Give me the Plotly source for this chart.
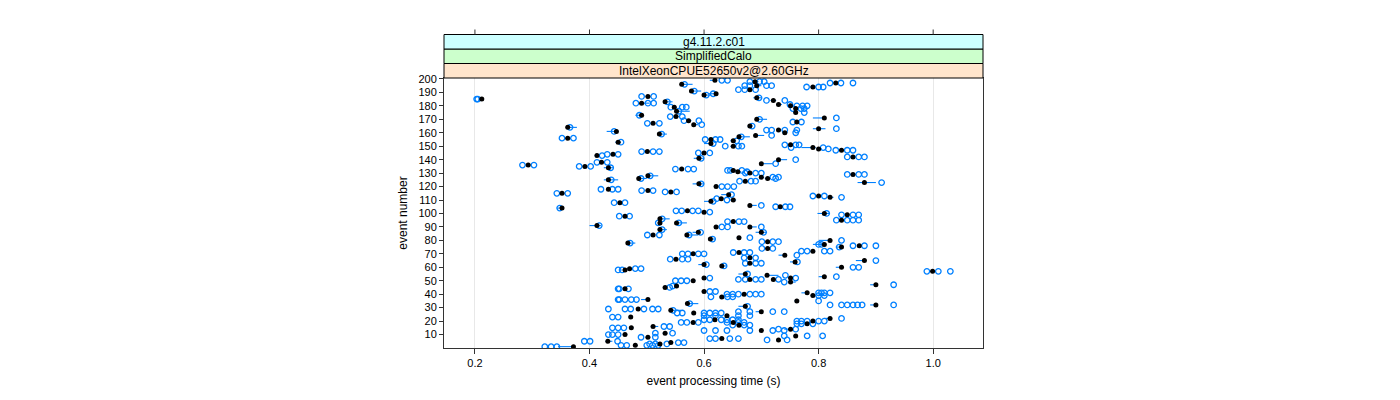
import plotly.graph_objects as go

# ---------------- data ----------------
strip_labels = ["IntelXeonCPUE52650v2@2.60GHz", "SimplifiedCalo", "g4.11.2.c01"]
strip_colors = ["#ffe5cc", "#ccffcc", "#ccffff"]
x_ticks = [0.2, 0.4, 0.6, 0.8, 1.0]
x_ticktext = ["0.2", "0.4", "0.6", "0.8", "1.0"]
y_ticks = list(range(10, 201, 10))

event_no = [199, 198, 197, 196, 195, 194, 192, 191, 189, 188, 187, 186, 185, 184, 183, 182, 181, 180,
            179, 178, 176, 175, 173, 172, 171, 170, 169, 168, 167, 166, 165, 164, 163, 162, 161, 160,
            159, 158, 157, 156, 155, 154, 153, 152, 151, 150, 149, 148, 147, 146, 145, 144, 143, 142,
            141, 140, 138, 137, 136, 135, 134, 133, 132, 131, 130, 129, 128, 127, 126, 126, 125, 124,
            123, 122, 120, 118, 117, 116, 115, 114, 113, 112, 111, 110, 109, 108, 106, 105, 104, 102,
            101, 100, 99, 98, 96, 95, 94, 93, 93, 91, 90, 90, 88, 86, 86, 84, 84, 82, 81, 80,
            79, 78, 77, 76, 75, 74, 72, 71, 70, 69, 67, 66, 65, 64, 63, 62, 61, 60,
            59, 58, 57, 55, 54, 53, 52, 52, 51, 51, 50, 49, 47, 46, 45, 44, 42, 41,
            40, 39, 38, 36, 35, 33, 32, 31, 29, 28, 27, 26, 24, 23, 22, 21, 20, 19,
            19, 18, 17, 16, 15, 14, 13, 11, 10, 9, 8, 7, 6, 5, 4, 3, 2, 1]

mean_time = [0.619, 0.689, 0.830, 0.561, 0.692, 0.790, 0.680, 0.578, 0.621, 0.600, 0.502, 0.692, 0.212, 0.721, 0.532, 0.491, 0.730, 0.751,
             0.548, 0.760, 0.552, 0.760, 0.491, 0.551, 0.810, 0.692, 0.573, 0.762, 0.511, 0.582, 0.680, 0.362, 0.800, 0.730, 0.447, 0.741,
             0.522, 0.690, 0.661, 0.362, 0.612, 0.651, 0.450, 0.612, 0.751, 0.651, 0.790, 0.800, 0.840, 0.501, 0.600, 0.441, 0.413, 0.860,
             0.591, 0.730, 0.421, 0.700, 0.293, 0.392, 0.433, 0.561, 0.651, 0.659, 0.680, 0.860, 0.502, 0.700, 0.486, 0.711, 0.433, 0.672,
             0.880, 0.591, 0.621, 0.433, 0.502, 0.542, 0.352, 0.643, 0.800, 0.820, 0.630, 0.651, 0.612, 0.453, 0.680, 0.733, 0.352, 0.571,
             0.600, 0.810, 0.850, 0.462, 0.523, 0.840, 0.651, 0.523, 0.552, 0.413, 0.680, 0.621, 0.523, 0.700, 0.590, 0.511, 0.570, 0.661, 0.611, 0.820,
             0.711, 0.467, 0.810, 0.871, 0.840, 0.711, 0.790, 0.661, 0.581, 0.741, 0.680, 0.551, 0.880, 0.759, 0.680, 0.600, 0.631, 0.840,
             0.470, 0.462, 0.999, 0.672, 0.710, 0.810, 0.600, 0.751, 0.680, 0.721, 0.581, 0.751, 0.900, 0.552, 0.532, 0.462, 0.600, 0.780,
             0.670, 0.790, 0.631, 0.502, 0.762, 0.571, 0.900, 0.672, 0.485, 0.542, 0.700, 0.582, 0.640, 0.472, 0.820, 0.619, 0.790, 0.581,
             0.651, 0.780, 0.661, 0.511, 0.473, 0.751, 0.700, 0.532, 0.462, 0.760, 0.502, 0.631, 0.730, 0.432, 0.542, 0.523, 0.480, 0.372]

seg_lo = [0.610, 0.685, 0.825, 0.561, 0.688, 0.785, 0.675, 0.575, 0.608, 0.600, 0.498, 0.686, 0.206, 0.716, 0.532, 0.488, 0.726, 0.746,
          0.545, 0.756, 0.552, 0.756, 0.480, 0.547, 0.790, 0.692, 0.570, 0.758, 0.507, 0.580, 0.676, 0.362, 0.790, 0.726, 0.430, 0.736,
          0.522, 0.690, 0.661, 0.358, 0.608, 0.646, 0.445, 0.600, 0.746, 0.646, 0.770, 0.796, 0.835, 0.497, 0.596, 0.437, 0.409, 0.855,
          0.582, 0.730, 0.417, 0.700, 0.289, 0.388, 0.425, 0.557, 0.646, 0.655, 0.676, 0.855, 0.502, 0.696, 0.486, 0.706, 0.425, 0.668,
          0.868, 0.580, 0.617, 0.429, 0.498, 0.538, 0.348, 0.630, 0.796, 0.816, 0.626, 0.646, 0.600, 0.449, 0.680, 0.729, 0.343, 0.567,
          0.596, 0.798, 0.846, 0.458, 0.523, 0.836, 0.646, 0.519, 0.552, 0.400, 0.680, 0.617, 0.519, 0.690, 0.580, 0.507, 0.570, 0.657, 0.611, 0.800,
          0.707, 0.467, 0.790, 0.867, 0.830, 0.707, 0.786, 0.657, 0.577, 0.730, 0.676, 0.547, 0.865, 0.750, 0.676, 0.590, 0.631, 0.830,
          0.466, 0.458, 0.995, 0.660, 0.710, 0.800, 0.596, 0.747, 0.676, 0.717, 0.577, 0.747, 0.890, 0.548, 0.528, 0.458, 0.596, 0.770,
          0.666, 0.786, 0.627, 0.490, 0.758, 0.571, 0.890, 0.660, 0.481, 0.542, 0.690, 0.578, 0.636, 0.468, 0.810, 0.615, 0.786, 0.577,
          0.647, 0.776, 0.657, 0.507, 0.469, 0.740, 0.696, 0.528, 0.458, 0.756, 0.498, 0.627, 0.726, 0.428, 0.538, 0.519, 0.476, 0.345]

seg_hi = [0.619, 0.695, 0.835, 0.580, 0.700, 0.795, 0.685, 0.595, 0.621, 0.612, 0.506, 0.700, 0.212, 0.726, 0.545, 0.505, 0.736, 0.756,
          0.552, 0.764, 0.575, 0.764, 0.491, 0.556, 0.810, 0.710, 0.578, 0.766, 0.515, 0.590, 0.685, 0.378, 0.812, 0.735, 0.447, 0.746,
          0.535, 0.705, 0.680, 0.366, 0.616, 0.656, 0.455, 0.612, 0.756, 0.656, 0.795, 0.806, 0.845, 0.505, 0.604, 0.445, 0.417, 0.865,
          0.600, 0.745, 0.425, 0.720, 0.297, 0.396, 0.442, 0.565, 0.656, 0.665, 0.685, 0.865, 0.520, 0.705, 0.500, 0.716, 0.450, 0.676,
          0.900, 0.600, 0.625, 0.437, 0.506, 0.546, 0.356, 0.643, 0.806, 0.826, 0.634, 0.656, 0.612, 0.457, 0.692, 0.737, 0.352, 0.575,
          0.604, 0.820, 0.854, 0.466, 0.540, 0.844, 0.656, 0.527, 0.570, 0.420, 0.692, 0.625, 0.535, 0.710, 0.590, 0.515, 0.590, 0.665, 0.620, 0.820,
          0.715, 0.480, 0.810, 0.875, 0.840, 0.715, 0.794, 0.665, 0.585, 0.741, 0.684, 0.555, 0.880, 0.759, 0.684, 0.600, 0.640, 0.840,
          0.474, 0.466, 1.003, 0.672, 0.730, 0.810, 0.604, 0.755, 0.684, 0.725, 0.585, 0.760, 0.900, 0.556, 0.536, 0.466, 0.604, 0.780,
          0.674, 0.794, 0.635, 0.502, 0.766, 0.590, 0.900, 0.672, 0.489, 0.560, 0.700, 0.586, 0.644, 0.476, 0.820, 0.623, 0.794, 0.585,
          0.655, 0.784, 0.665, 0.520, 0.477, 0.751, 0.704, 0.536, 0.466, 0.764, 0.506, 0.635, 0.734, 0.440, 0.546, 0.527, 0.484, 0.375]

run_times = [
    [0.631, 0.641], [0.680, 0.697, 0.705], [0.820, 0.839, 0.860], [0.566], [0.671, 0.680, 0.709, 0.718],
    [0.779, 0.800, 0.808], [0.660, 0.671, 0.690], [0.583], [0.616], [0.604], [0.491, 0.512], [0.696],
    [0.203, 0.205], [0.709, 0.741], [0.536], [0.481, 0.502, 0.512], [0.750], [0.762, 0.772, 0.780],
    [0.542, 0.562, 0.569], [0.755, 0.769, 0.775], [0.556], [0.775], [0.487], [0.541, 0.562], [0.831],
    [0.697], [0.565, 0.591], [0.755, 0.770], [0.501, 0.522], [0.596], [0.684], [0.366], [0.831],
    [0.709, 0.718, 0.741, 0.762], [0.443], [0.760], [0.526], [0.718], [0.665], [0.352, 0.372],
    [0.602, 0.620, 0.628], [0.657], [0.455], [0.616], [0.741, 0.760, 0.766], [0.637, 0.660, 0.666],
    [0.752, 0.808], [0.817], [0.830, 0.850, 0.860], [0.491, 0.511, 0.522], [0.590, 0.610], [0.431, 0.450],
    [0.422], [0.850, 0.870, 0.880], [0.595], [0.760], [0.413, 0.431], [0.725], [0.283, 0.303], [0.382, 0.402],
    [0.437], [0.550, 0.572, 0.582], [0.641, 0.646, 0.666], [0.675], [0.672, 0.690, 0.700], [0.850, 0.870, 0.880],
    [0.506], [0.720, 0.730], [0.490], [0.725], [0.438], [0.662, 0.682, 0.690], [0.910], [0.595],
    [0.631, 0.641, 0.652], [0.420, 0.440, 0.450], [0.491, 0.511], [0.532, 0.552], [0.343, 0.362], [0.648],
    [0.790, 0.810], [0.840], [0.622], [0.640], [0.616], [0.443, 0.462], [0.700], [0.725, 0.742, 0.750],
    [0.348], [0.551, 0.561, 0.580, 0.590], [0.610], [0.814], [0.840, 0.860, 0.870], [0.452, 0.470], [0.527],
    [0.831, 0.850, 0.860, 0.870], [0.641, 0.661, 0.670], [0.520], [0.556], [0.417], [0.700], [0.631, 0.641],
    [0.527], [0.704], [0.594], [0.501, 0.522], [0.574], [0.680], [0.615], [0.840],
    [0.701, 0.720, 0.730], [0.471], [0.800, 0.805], [0.860, 0.880, 0.900], [0.836], [0.701, 0.720],
    [0.770, 0.780, 0.810, 0.820], [0.651, 0.670, 0.680], [0.562, 0.572, 0.590, 0.600], [0.762], [0.670, 0.690],
    [0.541, 0.562, 0.572], [0.900], [0.763], [0.672, 0.690, 0.700], [0.604], [0.635], [0.860, 0.870],
    [0.480, 0.490], [0.450, 0.457], [0.989, 1.009, 1.030], [0.676], [0.742], [0.831], [0.610], [0.760],
    [0.660, 0.672, 0.690, 0.700], [0.730], [0.550, 0.560, 0.570], [0.740], [0.931], [0.545], [0.540],
    [0.450, 0.452, 0.468], [0.610, 0.620], [0.800, 0.805, 0.810, 0.820],
    [0.640, 0.650, 0.660, 0.680, 0.690, 0.700], [0.800, 0.810], [0.612, 0.641, 0.650],
    [0.450, 0.452, 0.462, 0.473, 0.482], [0.800], [0.575],
    [0.820, 0.840, 0.850, 0.860, 0.868, 0.876, 0.931], [0.676],
    [0.433, 0.462, 0.472, 0.495, 0.510, 0.520], [0.546], [0.660, 0.680, 0.720, 0.740],
    [0.553, 0.562, 0.600, 0.610, 0.620, 0.630], [0.600, 0.620, 0.660, 0.680], [0.440, 0.450], [0.840],
    [0.600, 0.610, 0.630, 0.640, 0.650, 0.660], [0.762, 0.770, 0.780, 0.800, 0.810], [0.560, 0.570, 0.590],
    [0.640, 0.660, 0.670], [0.762, 0.770, 0.790], [0.650, 0.670, 0.680], [0.530, 0.540], [0.440, 0.450, 0.460],
    [0.730, 0.760], [0.600, 0.620, 0.640, 0.680, 0.720, 0.740], [0.515, 0.545], [0.433, 0.440, 0.450],
    [0.740, 0.780, 0.807], [0.490, 0.515], [0.610, 0.620, 0.645, 0.660], [0.710, 0.745],
    [0.391, 0.401, 0.449], [0.555, 0.565], [0.505, 0.515, 0.535], [0.455, 0.465, 0.500, 0.510, 0.520],
    [0.322, 0.333, 0.343]]

# ---------------- figure ----------------
# the page body adds an 8 px offset, so the figure origin sits at (8, 8) of the window
OFF = 8
W, H = 1392, 392
PANEL_L, PANEL_R, PANEL_B = 444 - OFF, 983 - OFF, 348 - OFF
M_L, M_R, M_T, M_B = PANEL_L, W - PANEL_R, 0, H - PANEL_B
PH = H - M_T - M_B  # plot-area height in px
panel_top_px = 78.0 - OFF
strip_edges_px = [78.0 - OFF, 63.5 - OFF, 49.0 - OFF, 34.5 - OFF]


def py2paper(py):
    return (PH - (py - M_T)) / PH


run_x, run_y = [], []
for e, runs in zip(event_no, run_times):
    for t in runs:
        run_x.append(t)
        run_y.append(e)

seg_x, seg_y = [], []
for e, lo, hi in zip(event_no, seg_lo, seg_hi):
    seg_x += [lo, hi, None]
    seg_y += [e, e, None]

fig = go.Figure()
fig.add_trace(go.Scatter(
    x=run_x, y=run_y, mode="markers", hoverinfo="skip",
    marker=dict(symbol="circle-open", size=5.5, color="#0080ff", line=dict(width=1.3, color="#0080ff"))))
fig.add_trace(go.Scatter(
    x=seg_x, y=seg_y, mode="lines", hoverinfo="skip",
    line=dict(color="#0080ff", width=1.1)))
fig.add_trace(go.Scatter(
    x=mean_time, y=event_no, mode="markers",
    marker=dict(symbol="circle", size=5, color="black", line=dict(width=0))))

font_family = "Liberation Sans, Arial, Helvetica, sans-serif"
shapes = []
for i, col in enumerate(strip_colors):
    y0 = py2paper(strip_edges_px[i])
    y1 = py2paper(strip_edges_px[i + 1])
    shapes.append(dict(type="rect", xref="paper", yref="paper", x0=0, x1=1, y0=y0, y1=y1,
                       fillcolor=col, line=dict(color="#000000", width=1), layer="above"))
annotations = []
for i, lab in enumerate(strip_labels):
    ym = py2paper((strip_edges_px[i] + strip_edges_px[i + 1]) / 2)
    annotations.append(dict(text=lab, xref="paper", yref="paper", x=0.5, y=ym, showarrow=False,
                            xanchor="center", yanchor="middle",
                            font=dict(size=12, color="black", family=font_family)))
for t in x_ticks:
    shapes.append(dict(type="line", xref="x", yref="paper", x0=t, x1=t,
                       y0=py2paper(strip_edges_px[-1]), y1=py2paper(strip_edges_px[-1] - 5),
                       line=dict(color="#333333", width=1)))

fig.update_layout(
    width=W, height=H, margin=dict(l=M_L, r=M_R, t=M_T, b=M_B, autoexpand=False),
    paper_bgcolor="white", plot_bgcolor="white", showlegend=False,
    font=dict(family=font_family, size=12, color="black"),
    shapes=shapes, annotations=annotations,
    xaxis=dict(range=[0.146, 1.087], tickvals=x_ticks, ticktext=x_ticktext,
               ticks="outside", ticklen=5, tickcolor="#333333", tickfont=dict(size=11),
               showgrid=True, gridcolor="#e8e8e8", gridwidth=1, zeroline=False,
               showline=True, linecolor="#333333", linewidth=1, mirror=True,
               title=dict(text="event processing time (s)", font=dict(size=12), standoff=8)),
    yaxis=dict(range=[0, 200.7], tickvals=y_ticks, ticks="outside", ticklen=4, tickcolor="#333333",
               tickfont=dict(size=11), showgrid=False, zeroline=False,
               showline=True, linecolor="#333333", linewidth=1, mirror=True,
               domain=[0, py2paper(panel_top_px)],
               title=dict(text="event number", font=dict(size=12), standoff=8)),
)

fig.write_html("out.html")
